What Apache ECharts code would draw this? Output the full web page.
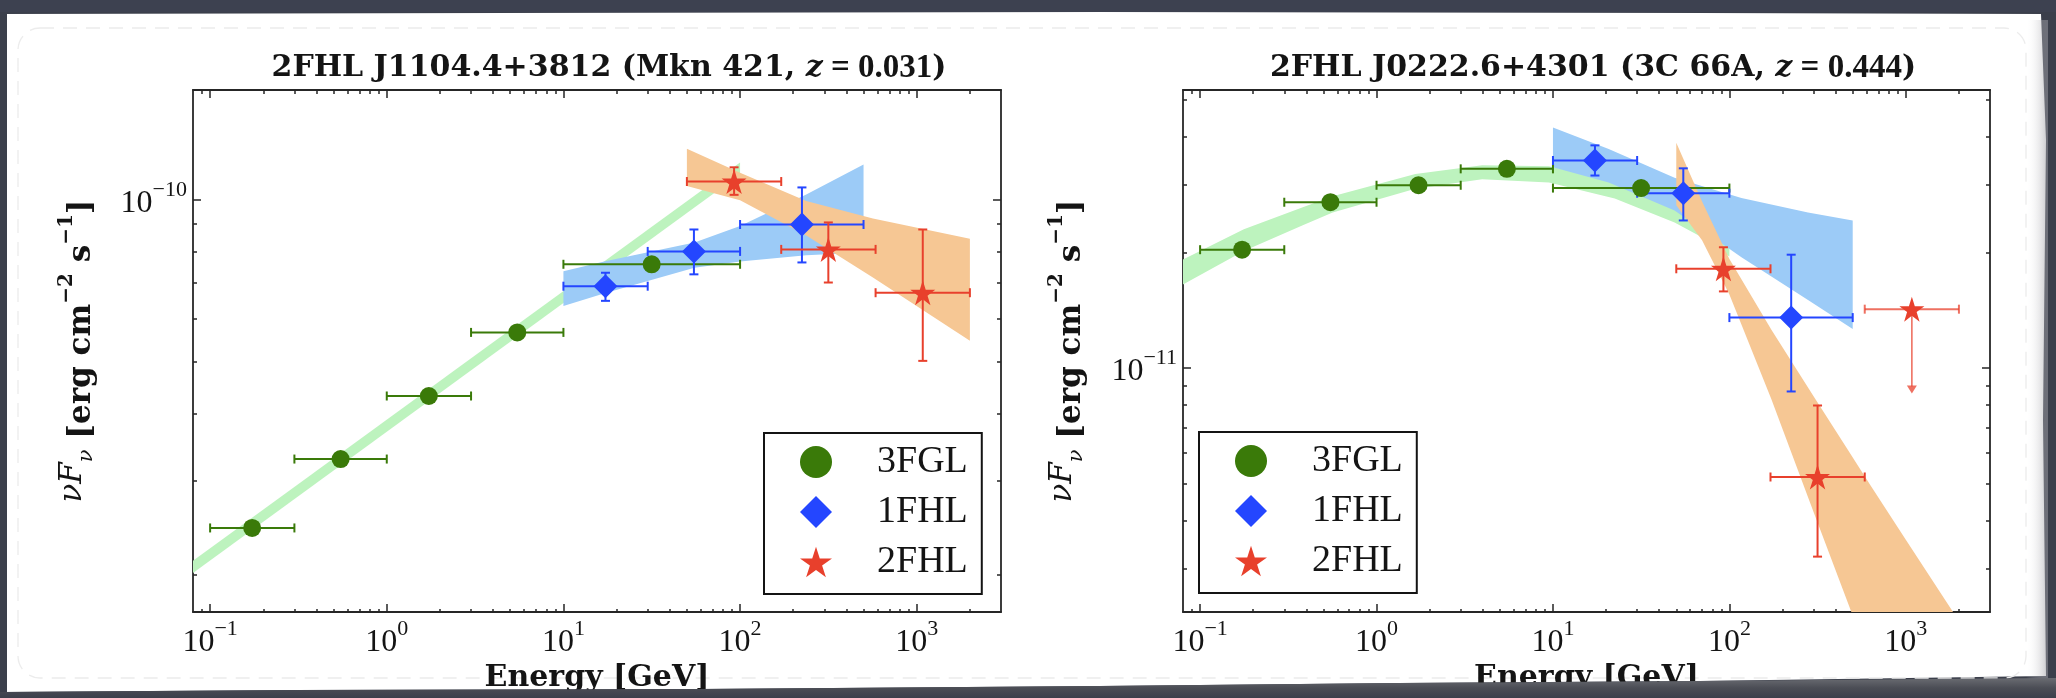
<!DOCTYPE html>
<html>
<head>
<meta charset="utf-8">
<title>2FHL blazar spectral energy distributions</title>
<script src="https://cdn.jsdelivr.net/npm/echarts@6.0.0/dist/echarts.min.js"></script>
<style>
  html, body { margin: 0; padding: 0; background: #3b3f4b; }
  #chart { width: 2056px; height: 698px; }
</style>
</head>
<body>
<div id="chart"></div>
<script>
// ---------------- energy bins (GeV) ----------------
const fglE    = [0.173, 0.548, 1.73, 5.48, 31.6];
const fglElo  = [0.1, 0.3, 1, 3, 10];
const fglEhi  = [0.3, 1, 3, 10, 100];
const fhl1E   = [17.3, 54.8, 224];
const fhl1Elo = [10, 30, 100];
const fhl1Ehi = [30, 100, 500];
const fhl2E   = [92.5, 316, 1082];
const fhl2Elo = [50, 171, 585];
const fhl2Ehi = [171, 585, 2000];

// ---------------- Mkn 421 : nuFnu [erg cm^-2 s^-1] ----------------
const mknFgl    = [2.44e-11, 3.28e-11, 4.30e-11, 5.65e-11, 7.57e-11];
const mknFhl1   = [6.89e-11, 8.00e-11, 8.98e-11];
const mknFhl1Lo = [6.47e-11, 7.25e-11, 7.63e-11];
const mknFhl1Hi = [7.30e-11, 8.79e-11, 1.053e-10];
const mknFhl2   = [1.08e-10, 8.07e-11, 6.70e-11];
const mknFhl2Lo = [1.02e-10, 7.00e-11, 5.00e-11];
const mknFhl2Hi = [1.148e-10, 9.06e-11, 8.79e-11];

// model bands (energy, lower edge, upper edge)
const mknFglBandE   = [0.08, 100];
const mknFglBandLo  = [2.01e-11, 1.114e-10];
const mknFglBandHi  = [2.12e-11, 1.172e-10];
const mknFhl1BandE  = [10, 17.5, 55.2, 100, 237, 500];
const mknFhl1BandLo = [6.33e-11, 6.70e-11, 7.46e-11, 7.66e-11, 7.87e-11, 7.96e-11];
const mknFhl1BandHi = [7.35e-11, 7.68e-11, 8.31e-11, 8.92e-11, 1.022e-10, 1.162e-10];
const mknFhl2BandE  = [50, 100, 237, 565, 2000];
const mknFhl2BandLo = [1.059e-10, 9.97e-11, 8.57e-11, 7.15e-11, 5.45e-11];
const mknFhl2BandHi = [1.243e-10, 1.121e-10, 9.93e-11, 9.21e-11, 8.45e-11];

// ---------------- 3C 66A : nuFnu [erg cm^-2 s^-1] ----------------
const c66Fgl    = [2.03e-11, 2.70e-11, 2.99e-11, 3.30e-11, 2.94e-11];
const c66FglLo  = [1.99e-11, 2.70e-11, 2.99e-11, 3.30e-11, 2.89e-11];
const c66FglHi  = [2.07e-11, 2.70e-11, 2.99e-11, 3.30e-11, 2.99e-11];
const c66Fhl1   = [3.47e-11, 2.85e-11, 1.35e-11];
const c66Fhl1Lo = [3.17e-11, 2.42e-11, 8.66e-12];
const c66Fhl1Hi = [3.80e-11, 3.31e-11, 1.97e-11];
// first two 2FHL bins are detections, the last one is an upper limit
const c66Fhl2   = [1.81e-11, 5.18e-12];
const c66Fhl2Lo = [1.58e-11, 3.21e-12];
const c66Fhl2Hi = [2.06e-11, 7.96e-12];
const c66Fhl2Ul      = [1.42e-11];
const c66Fhl2UlArrow = [8.61e-12];

const c66FglBandE   = [0.08, 0.177, 0.382, 0.564, 1.66, 3.97, 9.49, 22.4, 48.9, 69.5, 100];
const c66FglBandLo  = [1.648e-11, 2.014e-11, 2.35e-11, 2.54e-11, 2.93e-11, 3.10e-11, 3.04e-11, 2.76e-11, 2.39e-11, 2.19e-11, 1.95e-11];
const c66FglBandHi  = [1.914e-11, 2.296e-11, 2.62e-11, 2.80e-11, 3.20e-11, 3.37e-11, 3.35e-11, 3.08e-11, 2.70e-11, 2.50e-11, 2.23e-11];
const c66Fhl1BandE  = [10, 20.7, 48.9, 117, 279, 500];
const c66Fhl1BandLo = [3.33e-11, 3.04e-11, 2.57e-11, 1.94e-11, 1.50e-11, 1.26e-11];
const c66Fhl1BandHi = [4.23e-11, 3.72e-11, 3.13e-11, 2.77e-11, 2.54e-11, 2.42e-11];
const c66Fhl2BandE  = [50, 70, 100, 173, 300, 490, 634, 1000, 2000];
const c66Fhl2BandLo = [2.65e-11, 2.15e-11, 1.55e-11, 8.26e-12, 4.20e-12, 2.31e-12, 1.68e-12, 9.6e-13, 4.1e-13];
const c66Fhl2BandHi = [3.86e-11, 2.71e-11, 1.92e-11, 1.255e-11, 8.41e-12, 5.91e-12, 4.91e-12, 3.55e-12, 2.18e-12];

// ---------------- axes ----------------
const energyMin = 0.08, energyMax = 3000;
const mknFluxMin = 1.7e-11, mknFluxMax = 1.6e-10;
const c66FluxMin = 2.3e-12, c66FluxMax = 5.3e-11;
const xTickValues = [0.1, 1, 10, 100, 1000];
const mknYTicks = [1e-10];
const c66YTicks = [1e-11];

const legendNames = ['3FGL', '1FHL', '2FHL'];
const panelTitles = [
  '{b|2FHL J1104.4+3812 (Mkn 421, }{i|z}{n| = 0.031}{b|)}',
  '{b|2FHL J0222.6+4301 (3C 66A, }{i|z}{n| = 0.444}{b|)}'
];
const xName = 'Energy [GeV]';
const yName = '{i|\u03bdF}{sub|\u03bd}{b| [erg cm}{sup|\u22122}{b| s}{sup|\u22121}{b|]}';

// ---------------- styling ----------------
const GREEN = '#3a7a09', GREEN_BAND = '#bdf3be';
const BLUE = '#2446ff', BLUE_BAND = '#9ccbf7';
const RED = '#e8402c', ORANGE_BAND = '#f6c794';
const INK = '#141414';
const AXIS_COLOR = '#262626';
const SERIF = 'Liberation Serif';
const SERIF_WIDE = 'DejaVu Serif';
const STAR = 'path://M0,-1L0.2245,-0.309L0.951,-0.309L0.363,0.118L0.588,0.809L0,0.382L-0.588,0.809L-0.363,0.118L-0.951,-0.309L-0.2245,-0.309Z';

// plot rectangles of the two panels
const panels = [
  { left: 193, top: 90, width: 808, height: 523 },
  { left: 1183, top: 90, width: 807, height: 523 }
];

function minorTicks(lo, hi) {
  const out = [];
  for (let d = Math.floor(Math.log10(lo)); d <= Math.ceil(Math.log10(hi)); d++) {
    for (let m = 2; m <= 9; m++) {
      const v = m * Math.pow(10, d);
      if (v > lo && v < hi) out.push(v);
    }
  }
  return out;
}

function powLabel(v) {
  const e = Math.round(Math.log10(v));
  return '{m|10}{e|' + (e < 0 ? '\u2212' + (-e) : String(e)) + '}';
}
const POW_RICH = {
  m: { fontFamily: SERIF, fontSize: 32, color: INK, verticalAlign: 'bottom', lineHeight: 40 },
  e: { fontFamily: SERIF, fontSize: 22, color: INK, verticalAlign: 'top', lineHeight: 22 }
};

function logAxis(grid, position, lo, hi, ticks, tickLen, withLine, labels, extra) {
  const ax = {
    type: 'log', logBase: 10, gridIndex: grid, position: position,
    min: lo, max: hi, silent: true,
    splitLine: { show: false },
    minorTick: { show: false }, minorSplitLine: { show: false },
    axisLine: { show: withLine, onZero: false, lineStyle: { color: AXIS_COLOR, width: 1.8 } },
    axisTick: { show: true, inside: true, length: tickLen, customValues: ticks,
                lineStyle: { color: AXIS_COLOR, width: 1.5 } },
    axisLabel: { show: false }
  };
  if (labels) {
    ax.axisLabel = { show: true, customValues: labels, formatter: powLabel, rich: POW_RICH,
                     showMinLabel: true, showMaxLabel: true, margin: 6 };
  }
  return Object.assign(ax, extra || {});
}

const axisNameX = {
  name: xName, nameLocation: 'middle', nameGap: 42,
  nameTextStyle: { fontFamily: SERIF_WIDE, fontWeight: 'bold', fontSize: 30, color: INK, verticalAlign: 'top' }
};
const axisNameY = {
  name: yName, nameLocation: 'middle', nameGap: 96, nameRotate: 90,
  nameTextStyle: {
    rich: {
      i: { fontFamily: SERIF_WIDE, fontStyle: 'italic', fontSize: 31, color: INK, verticalAlign: 'top', lineHeight: 40 },
      sub: { fontFamily: SERIF_WIDE, fontStyle: 'italic', fontSize: 21, color: INK, verticalAlign: 'bottom', lineHeight: 21 },
      b: { fontFamily: SERIF_WIDE, fontWeight: 'bold', fontSize: 31, color: INK, verticalAlign: 'bottom', lineHeight: 40 },
      sup: { fontFamily: SERIF_WIDE, fontWeight: 'bold', fontSize: 20, color: INK, verticalAlign: 'top', lineHeight: 21 }
    }
  }
};

const xMinor = minorTicks(energyMin, energyMax);
const yRanges = [[mknFluxMin, mknFluxMax, mknYTicks], [c66FluxMin, c66FluxMax, c66YTicks]];

// grids 0,1 carry the frame, labels and major ticks; grids 2,3 the minor ticks
const grids = panels.concat(panels).map(p => Object.assign({ containLabel: false }, p));
const xAxes = [], yAxes = [];
panels.forEach((p, k) => {
  xAxes.push(logAxis(k, 'bottom', energyMin, energyMax, xTickValues, 8, true, xTickValues, axisNameX));
  xAxes.push(logAxis(k, 'top', energyMin, energyMax, xTickValues, 8, true, null));
  const [lo, hi, majors] = yRanges[k];
  yAxes.push(logAxis(k, 'left', lo, hi, majors, 8, true, majors, axisNameY));
  yAxes.push(logAxis(k, 'right', lo, hi, majors, 8, true, null));
});
panels.forEach((p, k) => {
  const g = k + 2;
  xAxes.push(logAxis(g, 'bottom', energyMin, energyMax, xMinor, 4, false, null));
  xAxes.push(logAxis(g, 'top', energyMin, energyMax, xMinor, 4, false, null));
  const [lo, hi] = yRanges[k];
  const yMinor = minorTicks(lo, hi);
  yAxes.push(logAxis(g, 'left', lo, hi, yMinor, 4, false, null));
  yAxes.push(logAxis(g, 'right', lo, hi, yMinor, 4, false, null));
});

// ---------------- series builders ----------------
function band(xi, yi, E, lo, hi, color, z) {
  return {
    type: 'custom', xAxisIndex: xi, yAxisIndex: yi, clip: true, silent: true, z: z,
    data: [[E[0], lo[0]]],
    renderItem: function (params, api) {
      const pts = [];
      for (let i = 0; i < E.length; i++) pts.push(api.coord([E[i], hi[i]]));
      for (let i = E.length - 1; i >= 0; i--) pts.push(api.coord([E[i], lo[i]]));
      return { type: 'polygon', shape: { points: pts }, style: { fill: color } };
    }
  };
}

function errRows(E, Elo, Ehi, F, Flo, Fhi) {
  return E.map((e, i) => [e, F[i], Elo[i], Ehi[i], Flo ? Flo[i] : F[i], Fhi ? Fhi[i] : F[i]]);
}

function errorBars(xi, yi, rows, color, z) {
  return {
    type: 'custom', xAxisIndex: xi, yAxisIndex: yi, silent: true, z: z,
    data: rows,
    renderItem: function (params, api) {
      const c = api.coord([api.value(0), api.value(1)]);
      const l = api.coord([api.value(2), api.value(1)]);
      const r = api.coord([api.value(3), api.value(1)]);
      const b = api.coord([api.value(0), api.value(4)]);
      const t = api.coord([api.value(0), api.value(5)]);
      const st = { stroke: color, lineWidth: 2 };
      const cap = 4.5;
      const kids = [
        { type: 'line', shape: { x1: l[0], y1: c[1], x2: r[0], y2: c[1] }, style: st },
        { type: 'line', shape: { x1: l[0], y1: c[1] - cap, x2: l[0], y2: c[1] + cap }, style: st },
        { type: 'line', shape: { x1: r[0], y1: c[1] - cap, x2: r[0], y2: c[1] + cap }, style: st }
      ];
      if (Math.abs(b[1] - t[1]) > 2) {
        kids.push({ type: 'line', shape: { x1: c[0], y1: t[1], x2: c[0], y2: b[1] }, style: st });
        kids.push({ type: 'line', shape: { x1: c[0] - cap, y1: t[1], x2: c[0] + cap, y2: t[1] }, style: st });
        kids.push({ type: 'line', shape: { x1: c[0] - cap, y1: b[1], x2: c[0] + cap, y2: b[1] }, style: st });
      }
      return { type: 'group', children: kids };
    }
  };
}

function upperLimits(xi, yi, rows, color, z) {
  return {
    type: 'custom', xAxisIndex: xi, yAxisIndex: yi, silent: true, z: z,
    data: rows,
    renderItem: function (params, api) {
      const c = api.coord([api.value(0), api.value(1)]);
      const l = api.coord([api.value(2), api.value(1)]);
      const r = api.coord([api.value(3), api.value(1)]);
      const e = api.coord([api.value(0), api.value(4)]);
      const st = { stroke: color, lineWidth: 2 };
      const cap = 4.5;
      return {
        type: 'group', children: [
          { type: 'line', shape: { x1: l[0], y1: c[1], x2: r[0], y2: c[1] }, style: st },
          { type: 'line', shape: { x1: l[0], y1: c[1] - cap, x2: l[0], y2: c[1] + cap }, style: st },
          { type: 'line', shape: { x1: r[0], y1: c[1] - cap, x2: r[0], y2: c[1] + cap }, style: st },
          { type: 'line', shape: { x1: c[0], y1: c[1], x2: c[0], y2: e[1] - 6 }, style: { stroke: color, lineWidth: 1.6 } },
          { type: 'polygon', shape: { points: [[c[0] - 5, e[1] - 7], [c[0] + 5, e[1] - 7], [c[0], e[1] + 1]] }, style: { fill: color } }
        ]
      };
    }
  };
}

function markers(name, xi, yi, E, F, symbol, size, color) {
  return {
    type: 'scatter', name: name, xAxisIndex: xi, yAxisIndex: yi, z: 6,
    symbol: symbol, symbolSize: size, silent: true,
    itemStyle: { color: color, opacity: 1 },
    emphasis: { disabled: true },
    data: E.map((e, i) => [e, F[i]])
  };
}

const series = [
  // ---- Mkn 421 ----
  band(0, 0, mknFglBandE, mknFglBandLo, mknFglBandHi, GREEN_BAND, 1),
  band(0, 0, mknFhl1BandE, mknFhl1BandLo, mknFhl1BandHi, BLUE_BAND, 2),
  band(0, 0, mknFhl2BandE, mknFhl2BandLo, mknFhl2BandHi, ORANGE_BAND, 3),
  errorBars(0, 0, errRows(fglE, fglElo, fglEhi, mknFgl, null, null), GREEN, 4),
  errorBars(0, 0, errRows(fhl1E, fhl1Elo, fhl1Ehi, mknFhl1, mknFhl1Lo, mknFhl1Hi), BLUE, 4),
  errorBars(0, 0, errRows(fhl2E, fhl2Elo, fhl2Ehi, mknFhl2, mknFhl2Lo, mknFhl2Hi), RED, 4),
  markers('3FGL', 0, 0, fglE, mknFgl, 'circle', 18, GREEN),
  markers('1FHL', 0, 0, fhl1E, mknFhl1, 'diamond', 24, BLUE),
  markers('2FHL', 0, 0, fhl2E, mknFhl2, STAR, 25, RED),
  // ---- 3C 66A ----
  band(2, 2, c66FglBandE, c66FglBandLo, c66FglBandHi, GREEN_BAND, 1),
  band(2, 2, c66Fhl1BandE, c66Fhl1BandLo, c66Fhl1BandHi, BLUE_BAND, 2),
  band(2, 2, c66Fhl2BandE, c66Fhl2BandLo, c66Fhl2BandHi, ORANGE_BAND, 3),
  errorBars(2, 2, errRows(fglE, fglElo, fglEhi, c66Fgl, c66FglLo, c66FglHi), GREEN, 4),
  errorBars(2, 2, errRows(fhl1E, fhl1Elo, fhl1Ehi, c66Fhl1, c66Fhl1Lo, c66Fhl1Hi), BLUE, 4),
  errorBars(2, 2, errRows(fhl2E.slice(0, 2), fhl2Elo.slice(0, 2), fhl2Ehi.slice(0, 2), c66Fhl2, c66Fhl2Lo, c66Fhl2Hi), RED, 4),
  upperLimits(2, 2, [[fhl2E[2], c66Fhl2Ul[0], fhl2Elo[2], fhl2Ehi[2], c66Fhl2UlArrow[0]]], 'rgba(232,64,44,0.75)', 4),
  markers('3FGL', 2, 2, fglE, c66Fgl, 'circle', 18, GREEN),
  markers('1FHL', 2, 2, fhl1E, c66Fhl1, 'diamond', 24, BLUE),
  markers('2FHL', 2, 2, fhl2E, c66Fhl2.concat(c66Fhl2Ul), STAR, 25, RED)
];

function legendAt(left, top) {
  return {
    orient: 'vertical', left: left, top: top,
    padding: [10, 14, 13, 36], itemGap: 12, itemWidth: 32, itemHeight: 32,
    backgroundColor: '#ffffff', borderColor: INK, borderWidth: 2, borderRadius: 0,
    selectedMode: false, data: legendNames,
    textStyle: { fontFamily: SERIF, fontSize: 38, color: INK, lineHeight: 32, padding: [0, 0, 0, 40] }
  };
}

const titleRich = {
  b: { fontFamily: SERIF_WIDE, fontWeight: 'bold', fontSize: 30, color: INK },
  i: { fontFamily: SERIF_WIDE, fontStyle: 'italic', fontSize: 30, color: INK },
  n: { fontFamily: SERIF, fontSize: 33, color: INK }
};

// torn sheet of paper on a dark slide
const paperEdge = [[7, 14], [500, 13], [1100, 12], [1700, 13], [2041, 14], [2046, 140], [2043, 420], [2046, 676],
                   [1700, 681], [1400, 683], [1100, 686], [700, 689], [300, 690], [7, 692]];
const slideBottom = [[0, 692], [300, 690], [700, 689], [1100, 686], [1400, 683], [1700, 681], [2056, 678], [2056, 698], [0, 698]];

const option = {
  animation: false,
  backgroundColor: '#3b3f4b',
  title: [
    { text: panelTitles[0], left: 609, top: 52, textAlign: 'center', padding: 0, textStyle: { rich: titleRich } },
    { text: panelTitles[1], left: 1593, top: 52, textAlign: 'center', padding: 0, textStyle: { rich: titleRich } }
  ],
  legend: [legendAt(764, 433), legendAt(1199, 432)],
  grid: grids,
  xAxis: xAxes,
  yAxis: yAxes,
  series: series,
  graphic: [
    { type: 'polygon', z: -20, silent: true, shape: { points: paperEdge }, style: { fill: '#ffffff' } },
    { type: 'rect', z: -19, silent: true, shape: { x: 2026, y: 20, width: 22, height: 660 },
      style: { fill: { type: 'linear', x: 0, y: 0, x2: 1, y2: 0,
        colorStops: [{ offset: 0, color: 'rgba(255,255,255,0)' }, { offset: 1, color: 'rgba(150,150,158,0.55)' }] } } },
    { type: 'rect', z: -19, silent: true, shape: { x: 18, y: 28, width: 2008, height: 650, r: 22 },
      style: { fill: 'none', stroke: '#ececec', lineWidth: 1.3, lineDash: [14, 9] } },
    { type: 'polygon', z: 100, silent: true, shape: { points: slideBottom },
      style: { fill: { type: 'linear', x: 0, y: 0, x2: 0, y2: 1,
        colorStops: [{ offset: 0, color: '#6a6c72' }, { offset: 0.5, color: '#4b4d55' }, { offset: 1, color: '#3b3f4b' }] } } },
    { type: 'rect', z: 100, silent: true, shape: { x: 0, y: 0, width: 2056, height: 12 },
      style: { fill: '#3d4150' } }
  ]
};

const chart = echarts.init(document.getElementById('chart'), null, { renderer: 'canvas', width: 2056, height: 698 });
chart.setOption(option);
</script>
</body>
</html>
